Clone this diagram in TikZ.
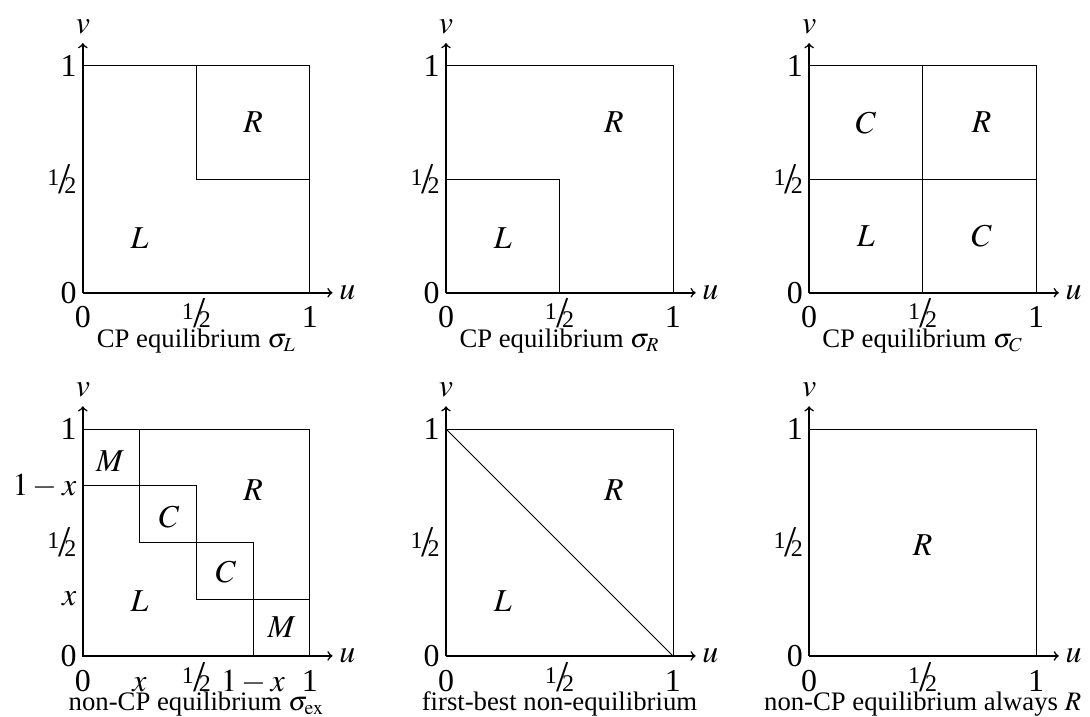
\documentclass[tikz,border=0pt]{standalone}
\usepackage{mathptmx}
\usepackage{fontspec}
\setmainfont{Liberation Serif}
\usetikzlibrary{positioning}
\newcommand{\frachalf}{\raisebox{.55ex}{\fontsize{12}{13}\selectfont 1}\kern-.02em{\fontsize{22}{22}\selectfont/}\kern-.2em{\fontsize{12}{13}\selectfont 2}}

\begin{document}
\begin{tikzpicture}[
  x=4cm, y=4cm,
  font=\fontsize{16}{18}\selectfont,
  >=to,
  axis/.style={->, thick},
  part/.style={draw, thin},
  ticky/.style={left, inner sep=3pt},
  tickx/.style={anchor=base, yshift=-0.62cm, inner sep=0pt},
  caption/.style={anchor=base, yshift=-0.96cm, inner sep=0pt,
    font=\fontsize{13.4}{15}\selectfont}
]
  \useasboundingbox (-1.46cm,-7.47cm) rectangle (17.75cm,5.16cm);

  % common axes, frame and ticks
  \foreach \p/\sx/\sy/\cap in {a/0/0/{CP equilibrium $\sigma_L$},
      b/1.6/0/{CP equilibrium $\sigma_R$},
      c/3.2/0/{CP equilibrium $\sigma_C$},
      d/0/-1.6/{non-CP equilibrium $\sigma_{\mathrm{ex}}$},
      e/1.6/-1.6/{first-best non-equilibrium},
      f/3.2/-1.6/{non-CP equilibrium always $R$}}{
    \begin{scope}[shift={(\sx,\sy)}]
      \draw[axis] (0,0) -- (1.1,0) node[right, inner sep=3pt] (\p-u) {$u$};
      \draw[axis] (0,0) -- (0,1.1) node[above, inner sep=4pt] (\p-v) {$v$};
      \draw[part] (0,0) rectangle (1,1);
      \node[ticky] (\p-y0) at (0,0) {0};
      \node[ticky] (\p-yh) at (0,0.5) {\frachalf};
      \node[ticky] (\p-y1) at (0,1) {1};
      \node[tickx] (\p-x0) at (0,0) {0};
      \node[tickx] (\p-xh) at (0.5,0) {\frachalf};
      \node[tickx] (\p-x1) at (1,0) {1};
      \node[caption] (\p-cap) at (0.5,0) {\cap};
    \end{scope}
  }

  % sigma_L
  \begin{scope}[shift={(0,0)}]
    \draw[part] (0.5,1) -- (0.5,0.5) -- (1,0.5);
    \node (a-L) at (0.25,0.24) {$L$};
    \node (a-R) at (0.75,0.75) {$R$};
  \end{scope}

  % sigma_R
  \begin{scope}[shift={(1.6,0)}]
    \draw[part] (0,0.5) -- (0.5,0.5) -- (0.5,0);
    \node (b-L) at (0.25,0.24) {$L$};
    \node (b-R) at (0.74,0.75) {$R$};
  \end{scope}

  % sigma_C
  \begin{scope}[shift={(3.2,0)}]
    \draw[part] (0.5,0) -- (0.5,1);
    \draw[part] (0,0.5) -- (1,0.5);
    \node (c-C1) at (0.25,0.75) {$C$};
    \node (c-R) at (0.76,0.75) {$R$};
    \node (c-L) at (0.25,0.25) {$L$};
    \node (c-C2) at (0.76,0.25) {$C$};
  \end{scope}

  % sigma_ex
  \begin{scope}[shift={(0,-1.6)}]
    \draw[part] (0,0.75) -- (0.5,0.75) -- (0.5,0.25) -- (1,0.25);
    \draw[part] (0.25,1) -- (0.25,0.5) -- (0.75,0.5) -- (0.75,0);
    \node[ticky] (d-yx) at (0,0.25) {$x$};
    \node[ticky] (d-y1x) at (0,0.75) {$1-x$};
    \node[tickx] (d-xx) at (0.25,0) {$x$};
    \node[tickx] (d-x1x) at (0.75,0) {$1-x$};
    \node (d-M1) at (0.12,0.86) {$M$};
    \node (d-C1) at (0.38,0.61) {$C$};
    \node (d-C2) at (0.63,0.37) {$C$};
    \node (d-M2) at (0.875,0.125) {$M$};
    \node (d-R) at (0.75,0.73) {$R$};
    \node (d-L) at (0.25,0.24) {$L$};
  \end{scope}

  % first-best
  \begin{scope}[shift={(1.6,-1.6)}]
    \draw[part] (0,1) -- (1,0);
    \node (e-R) at (0.74,0.73) {$R$};
    \node (e-L) at (0.25,0.24) {$L$};
  \end{scope}

  % always R
  \begin{scope}[shift={(3.2,-1.6)}]
    \node (f-R) at (0.5,0.49) {$R$};
  \end{scope}
\end{tikzpicture}
\end{document}
